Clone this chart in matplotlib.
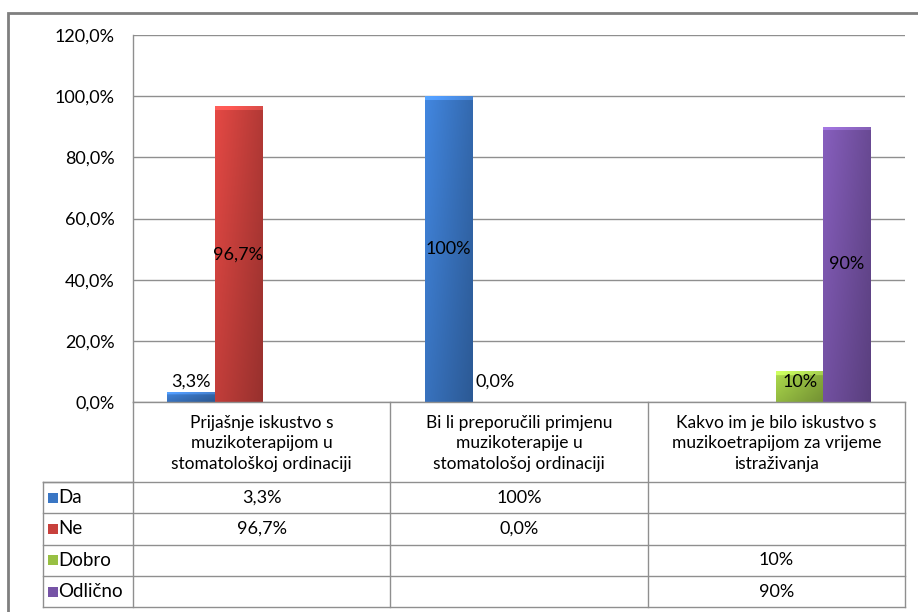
import numpy as np
import matplotlib.pyplot as plt
from matplotlib.patches import Rectangle
from matplotlib.transforms import blended_transform_factory

plt.rcParams['font.family'] = ['Lato', 'DejaVu Sans']

categories = ["Prijašnje iskustvo s\nmuzikoterapijom u\nstomatološkoj ordinaciji",
              "Bi li preporučili primjenu\nmuzikoterapije u\nstomatološoj ordinaciji",
              "Kakvo im je bilo iskustvo s\nmuzikoetrapijom za vrijeme\nistraživanja"]
series = ["Da", "Ne", "Dobro", "Odlično"]
da = [3.3, 100, np.nan]
ne = [96.7, 0.0, np.nan]
dobro = [np.nan, np.nan, 10]
odlicno = [np.nan, np.nan, 90]
da_lbl = ["3,3%", "100%", ""]
ne_lbl = ["96,7%", "0,0%", ""]
dobro_lbl = ["", "", "10%"]
odlicno_lbl = ["", "", "90%"]
colors = ["#3a76c4", "#c8403c", "#98c043", "#7653a6"]
yticks = [0, 20, 40, 60, 80, 100, 120]

values = [da, ne, dobro, odlicno]
labels = [da_lbl, ne_lbl, dobro_lbl, odlicno_lbl]

fig = plt.figure(figsize=(9.18, 6.12), dpi=100)
fig.patch.set_facecolor("white")
# outer chart border (runs off right/bottom like the original)
fig.patches.append(Rectangle((8 / 918, -0.02), 1.0, 1 - 13 / 612 + 0.02,
                             transform=fig.transFigure, fill=False,
                             edgecolor="#7f7f7f", linewidth=2))

ax = fig.add_axes([133 / 918, 1 - 402 / 612, 772 / 918, 367 / 612])
ax.set_xlim(-0.5, 2.5)
ax.set_ylim(0, 120)
ax.set_yticks(yticks)
ax.set_yticklabels([f"{t:.1f}%".replace(".", ",") for t in yticks], fontsize=13)
ax.tick_params(axis="y", length=0, pad=13)
ax.set_xticks([])
ax.grid(axis="y", color="#8f8f8f", linewidth=1)
ax.set_axisbelow(True)
for s in ["top", "right"]:
    ax.spines[s].set_visible(False)
for s in ["left", "bottom"]:
    ax.spines[s].set_color("#8f8f8f")
    ax.spines[s].set_linewidth(1)

x = np.arange(len(categories))
w = 0.183
px_per_unit = 367 / 120


def shade(c, h):
    base = np.array(plt.matplotlib.colors.to_rgb(c))
    nx = 40
    ny = max(int(h * px_per_unit), 2)
    fx = np.linspace(1.1, 0.86, nx)
    fy = np.linspace(1.04, 0.88, ny)
    img = base[None, None, :] * fy[:, None, None] * fx[None, :, None]
    # small bevel highlight at the top
    bev = min(4, ny // 3)
    if bev > 0:
        img[:bev] = img[:bev] * 1.15 + 0.04
    return np.clip(img, 0, 1)


for j, (vals, lbls, col) in enumerate(zip(values, labels, colors)):
    pos = x + (j - 2) * w
    bars = ax.bar(pos, vals, w, align="edge", color=col, zorder=2, linewidth=0)
    for b in bars:
        h = b.get_height()
        if np.isnan(h) or h <= 0:
            continue
        im = ax.imshow(shade(col, h), extent=(b.get_x(), b.get_x() + w, 0, h),
                       aspect="auto", zorder=2.1, interpolation="bilinear")
        im.set_clip_path(b)
    for p, v, t in zip(pos, vals, lbls):
        if t:
            ax.text(p + w / 2, max(v / 2, 6.5), t, ha="center", va="center",
                    fontsize=13, color="black", zorder=3)
ax.set_xlim(-0.5, 2.5)
ax.set_ylim(0, 120)

# data table below the plot
tr = blended_transform_factory(ax.transData, ax.transAxes)
hdr = -80 / 367
rowh = 31.3 / 367
left = -90 / 772
line_kw = dict(color="#8f8f8f", linewidth=1, clip_on=False)
bottom = hdr - rowh * len(series)

for i, c in enumerate(categories):
    ax.text(i, hdr / 2 - 0.004, c, transform=tr, ha="center", va="center",
            fontsize=12.5, linespacing=1.38)
# vertical lines
for xb in [-0.5, 0.5, 1.5, 2.5]:
    ax.plot([xb, xb], [0, bottom], transform=tr, **line_kw)
ax.plot([left, 0], [hdr, hdr], transform=ax.transAxes, **line_kw)
ax.plot([left, left], [hdr, bottom], transform=ax.transAxes, **line_kw)
for r in range(len(series) + 1):
    yy = hdr - rowh * r
    ax.plot([left, 1], [yy, yy], transform=ax.transAxes, **line_kw)

for r, (name, lbls, col) in enumerate(zip(series, labels, colors)):
    yc = hdr - rowh * (r + 0.5)
    ax.add_patch(Rectangle((left + 5 / 772, yc - 5 / 367), 10 / 772, 10 / 367,
                           transform=ax.transAxes, facecolor=col,
                           edgecolor="none", clip_on=False))
    ax.text(left + 15 / 772, yc, name, transform=ax.transAxes, ha="left",
            va="center", fontsize=13.5)
    for i, t in enumerate(lbls):
        if t:
            ax.text(i, yc, t, transform=tr, ha="center", va="center", fontsize=13)

fig.savefig("out.png", dpi=100)
